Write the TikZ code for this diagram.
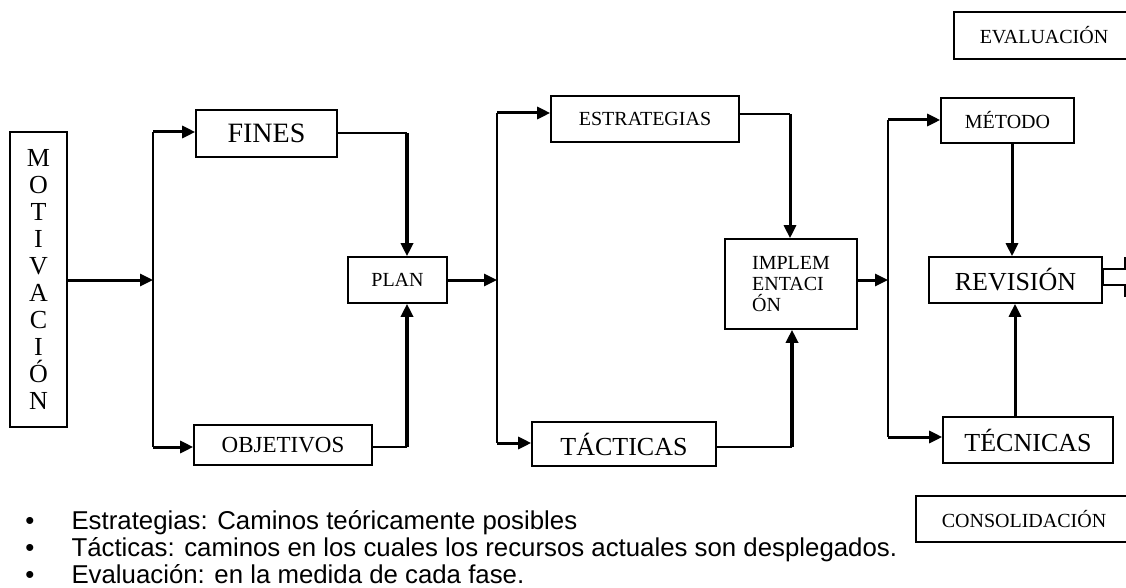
\documentclass[tikz,border=0pt]{standalone}
\usepackage{fontspec}
\setmainfont{Liberation Serif}
\newfontfamily\bulletfont{Liberation Sans}
\usetikzlibrary{arrows.meta,calc}
\tikzset{
  box/.style={draw, line width=1.6pt, inner sep=0pt, rectangle},
  conn/.style={line width=1.8pt},
  connm/.style={line width=3pt},
  connk/.style={line width=4.6pt},
  arr/.style={-{Triangle[length=13pt,width=12pt]}},
  fs/.style={font=\fontsize{#1}{#1}\selectfont},
  btext/.style={anchor=base west, font=\bulletfont\fontsize{25.8}{27}\selectfont},
  bdot/.style={anchor=base, font=\bulletfont\fontsize{25.8}{27}\selectfont}
}
\begin{document}
\begin{tikzpicture}[x=1pt,y=-1pt]
\clip (0,0) rectangle (1126,588);
\fill[white] (0,0) rectangle (1126,588);

% boxes
\node[box, minimum width=57pt, minimum height=295pt, align=center, font=\fontsize{26}{27}\selectfont] (mot) at (38.5,279.5) {M\\O\\T\\I\\V\\A\\C\\I\\Ó\\N};
\node[box, minimum width=141pt, minimum height=47pt, fs=28] (fines) at (266.5,133.5) {FINES\hspace{18pt}};
\node[box, minimum width=178pt, minimum height=40pt, fs=23] (obj) at (283,445) {OBJETIVOS};
\node[box, minimum width=99pt, minimum height=46pt, fs=20] (plan) at (397.5,280) {PLAN};
\node[box, minimum width=188pt, minimum height=46pt, fs=20] (est) at (645,119) {ESTRATEGIAS\hspace{14pt}};
\node[box, minimum width=184pt, minimum height=44pt, fs=26] (tac) at (624,444) {TÁCTICAS\hspace{15pt}};
\node[box, minimum width=132pt, minimum height=90pt, align=left, font=\fontsize{20}{21}\selectfont] (impl) at (791,284) {IMPLEM\\ENTACI\\ÓN\hspace{8pt}};
\node[box, minimum width=133pt, minimum height=45pt, fs=20] (met) at (1007.5,120.5) {MÉTODO};
\node[box, minimum width=173pt, minimum height=46pt, fs=26] (rev) at (1015.5,280) {REVISIÓN\hspace{8pt}};
\node[box, minimum width=170pt, minimum height=46pt, fs=26] (tec) at (1028,440) {TÉCNICAS};
\node[box, minimum width=180pt, minimum height=47pt, fs=20] (eva) at (1044,35.5) {EVALUACIÓN\hspace{4pt}};
\node[box, minimum width=216pt, minimum height=46pt, fs=20] (cons) at (1024,519) {CONSOLIDACIÓN\hspace{2pt}};

% junction coordinates
\coordinate (j1) at (153,280);
\coordinate (j1t) at (153,132);
\coordinate (j1b) at (153,447);
\coordinate (k1) at (407,133);
\coordinate (k2) at (407,447);
\coordinate (j2) at (497,280);
\coordinate (j2t) at (497,113);
\coordinate (j2b) at (497,443);
\coordinate (k3) at (790,114);
\coordinate (k4) at (792,447);
\coordinate (j3) at (888,280);
\coordinate (j3t) at (888,120);
\coordinate (j3b) at (888,437);
\coordinate (k5) at (1012,0);
\coordinate (k6) at (1015,0);

% first stage
\draw[connm, arr] (mot.east |- j1) -- (j1);
\draw[conn] (j1t) -- (j1b);
\draw[connm, arr] (j1t) -- (j1t -| fines.west);
\draw[connm, arr] (j1b) -- (j1b -| obj.west);
\draw[conn] (fines.east |- k1) -- (k1);
\draw[connk, arr] (k1) -- (k1 |- plan.north);
\draw[conn] (obj.east |- k2) -- (k2);
\draw[connk, arr] (k2) -- (k2 |- plan.south);

% second stage
\draw[connm, arr] (plan.east) -- (j2);
\draw[conn] (j2t) -- (j2b);
\draw[connm, arr] (j2t) -- (j2t -| est.west);
\draw[connm, arr] (j2b) -- (j2b -| tac.west);
\draw[conn] (est.east |- k3) -- (k3);
\draw[connm, arr] (k3) -- (k3 |- impl.north);
\draw[conn] (tac.east |- k4) -- (k4);
\draw[connk, arr] (k4) -- (k4 |- impl.south);

% third stage
\draw[connm, arr] (impl.east |- j3) -- (j3);
\draw[conn] (j3t) -- (j3b);
\draw[connm, arr] (j3t) -- (j3t -| met.west);
\draw[connm, arr] (j3b) -- (j3b -| tec.west);
\draw[connm, arr] (k5 |- met.south) -- (k5 |- rev.north);
\draw[connm, arr] (k6 |- tec.north) -- (k6 |- rev.south);

% outgoing block arrow from REVISION
\draw[conn] ($(rev.east)+(0,-11)$) -- ++(22,0) -- ++(0,-11) -- ++(10,0);
\draw[conn] ($(rev.east)+(0,5)$) -- ++(22,0) -- ++(0,11) -- ++(10,0);
\draw[connm] ($(rev.east)+(0,-11)$) -- ($(rev.east)+(0,5)$);

% bullet list
\node[bdot] (d1) at (30,529) {•};
\node[bdot] (d2) at (30,556) {•};
\node[bdot] (d3) at (30,583) {•};
\node[btext] (t1) at (68,529) {Estrategias: Caminos teóricamente posibles};
\node[btext] (t2) at (68,556) {Tácticas: caminos en los cuales los recursos actuales son desplegados.};
\node[btext] (t3) at (68,583) {Evaluación: en la medida de cada fase.};
\end{tikzpicture}
\end{document}
